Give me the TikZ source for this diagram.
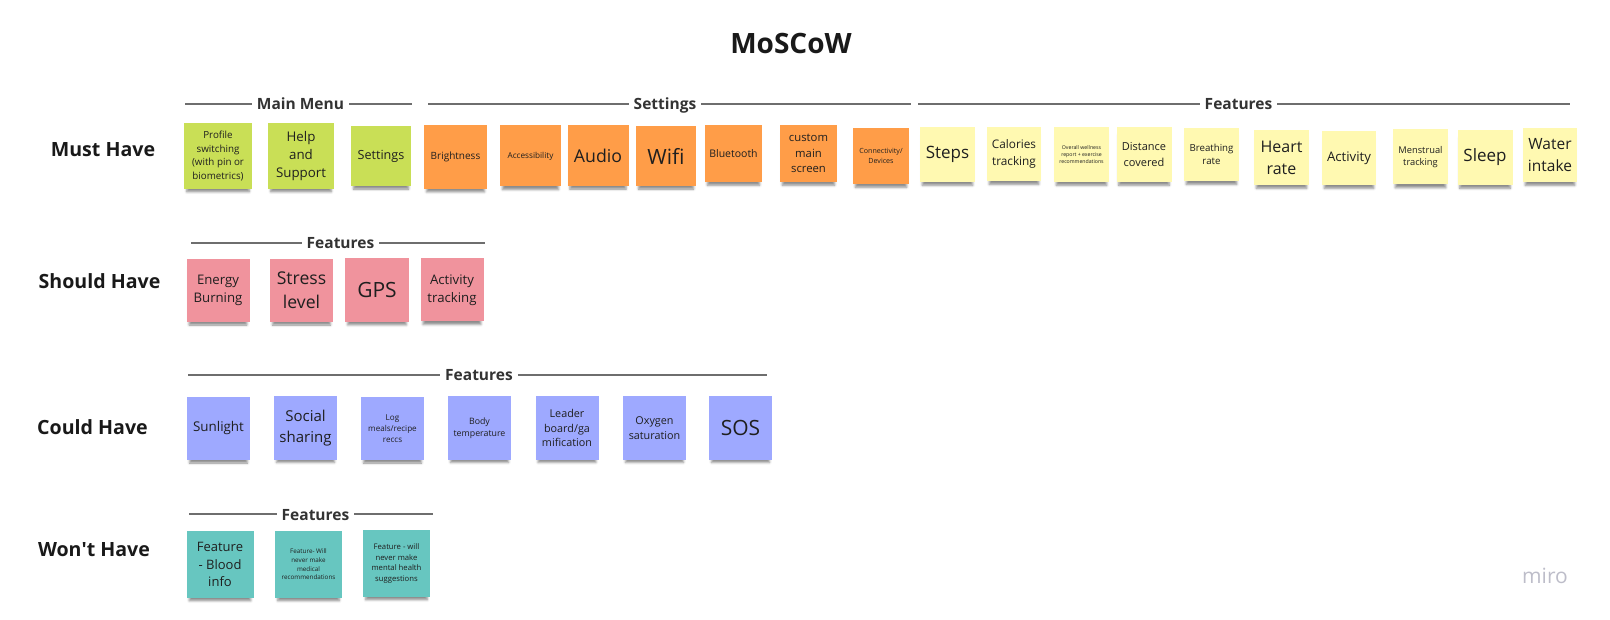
\documentclass[tikz,border=0pt]{standalone}
\usepackage{fontspec}
\setmainfont{Open Sans}
\usetikzlibrary{shadows.blur}
\definecolor{notegreen}{HTML}{C9DF56}
\definecolor{noteorange}{HTML}{FF9D48}
\definecolor{noteyellow}{HTML}{FFF9B1}
\definecolor{notered}{HTML}{F0939D}
\definecolor{noteblue}{HTML}{9EA9FF}
\definecolor{notecyan}{HTML}{67C6C0}
\definecolor{rulegray}{HTML}{6E6E6E}
\definecolor{logogray}{HTML}{BDBDC9}
\newcommand{\stsize}[1]{\fontsize{#1}{\fpeval{1.37*#1}}\selectfont}

\begin{document}
\begin{tikzpicture}[x=1pt, y=-1pt,
    note/.style={inner sep=0pt, align=center, text=black!88, minimum size=63pt,
      blur shadow={shadow xshift=0pt, shadow yshift=-6pt, shadow scale=0.92,
        shadow opacity=45, shadow blur radius=2.5pt}},
    fs/.style={font=\stsize{#1}},
    header/.style={anchor=base, font=\bfseries\fontsize{15.5}{18}\selectfont,
      text=black!80, inner xsep=5pt, inner ysep=0pt},
    rowlabel/.style={anchor=base, font=\bfseries\fontsize{19.6}{23}\selectfont,
      text=black!90, inner sep=0pt},
    headline/.style={draw=rulegray, line width=1.1pt}]
    \useasboundingbox (0,0) rectangle (1610,620);

    \node (title) at (791,53.5) [anchor=base, font=\bfseries\fontsize{28}{32}\selectfont, text=black!90] {MoSCoW};

    \node (must) at (103,157) [rowlabel] {Must Have};
    \node (should) at (99.5,289) [rowlabel] {Should Have};
    \node (could) at (92.5,435) [rowlabel] {Could Have};
    \node (wont) at (94,556) [rowlabel] {Won\textquotesingle t Have};

    % section headers
    \node (hmenu) at (300.5,110) [header] {Main Menu};
    \node (hsett) at (665,110) [header] {Settings};
    \node (hfeat) at (1238.5,110) [header] {Features};
    \node (hshould) at (340.5,249) [header] {Features};
    \node (hcould) at (479,381) [header] {Features};
    \node (hwont) at (315.5,520) [header] {Features};
    \coordinate (menuL) at (185,104);   \coordinate (menuR) at (412,104);
    \coordinate (settL) at (428,104);   \coordinate (settR) at (911,104);
    \coordinate (featL) at (918,104);   \coordinate (featR) at (1570,104);
    \coordinate (shouldL) at (191,243); \coordinate (shouldR) at (485,243);
    \coordinate (couldL) at (188,375);  \coordinate (couldR) at (767,375);
    \coordinate (wontL) at (189,514);   \coordinate (wontR) at (433,514);
    \foreach \h in {menu, sett, feat, should, could, wont} {
      \draw [headline] (\h L) -- (h\h.west |- \h L);
      \draw [headline] (h\h.east |- \h R) -- (\h R);
    }

    % must have
    \node (prof) at (218,156) [note, fill=notegreen, minimum width=68pt, minimum height=66pt, fs=9.8] {Profile\\switching\\(with pin or\\biometrics)};
    \node (help) at (301,156) [note, fill=notegreen, minimum size=66pt, fs=13.3] {Help\\and\\Support};
    \node (sett) at (381,156) [note, fill=notegreen, minimum size=60pt, fs=12.6] {Settings};
    \node (bright) at (455.5,157) [note, fill=noteorange, minimum width=63pt, minimum height=64pt, fs=10] {Brightness};
    \node (access) at (530.5,156) [note, fill=noteorange, minimum size=61pt, fs=8.2] {Accessibility};
    \node (audio) at (598,155.5) [note, fill=noteorange, minimum size=61pt, fs=17.7] {Audio};
    \node (wifi) at (666,156) [note, fill=noteorange, minimum size=60pt, fs=21] {Wifi};
    \node (blue) at (733.5,153.5) [note, fill=noteorange, minimum size=57pt, fs=10.5] {Bluetooth};
    \node (custom) at (808.5,153.5) [note, fill=noteorange, minimum size=57pt, fs=11.3] {custom\\main\\screen};
    \node (conn) at (881,156) [note, fill=noteorange, minimum size=56pt, fs=7.1] {Connectivity/\\Devices};
    \node (steps) at (947.5,154.5) [note, fill=noteyellow, minimum size=55pt, fs=17] {Steps};
    \node (cal) at (1014,154) [note, fill=noteyellow, minimum size=54pt, fs=11.8] {Calories\\tracking};
    \node (overall) at (1081.5,154.5) [note, fill=noteyellow, minimum size=55pt, fs=5.2] {Overall wellness\\report + exercise\\recommendations};
    \node (dist) at (1144,154.5) [note, fill=noteyellow, minimum size=55pt, fs=11] {Distance\\covered};
    \node (breath) at (1211.5,154.5) [note, fill=noteyellow, minimum width=55pt, minimum height=53pt, fs=9.7] {Breathing\\rate};
    \node (heart) at (1281.5,157.5) [note, fill=noteyellow, minimum size=55pt, fs=16] {Heart\\rate};
    \node (activ) at (1349,158) [note, fill=noteyellow, minimum size=54pt, fs=13.2] {Activity};
    \node (menst) at (1420.5,157) [note, fill=noteyellow, minimum size=55pt, fs=9.3] {Menstrual\\tracking};
    \node (sleep) at (1485,157.5) [note, fill=noteyellow, minimum size=55pt, fs=17] {Sleep};
    \node (water) at (1550,155) [note, fill=noteyellow, minimum size=54pt, fs=15.5] {Water\\intake};

    % should have
    \node (energy) at (218,290.5) [note, fill=notered, fs=13.2] {Energy\\Burning};
    \node (stress) at (301.5,290.5) [note, fill=notered, fs=17.6] {Stress\\level};
    \node (gps) at (377,290) [note, fill=notered, minimum size=64pt, fs=21] {GPS};
    \node (acttrack) at (452,290) [note, fill=notered, fs=13.2] {Activity\\tracking};

    % could have
    \node (sun) at (218.5,428.5) [note, fill=noteblue, fs=13.4] {Sunlight};
    \node (social) at (305.5,428) [note, fill=noteblue, fs=15] {Social\\sharing};
    \node (logm) at (392.5,428.5) [note, fill=noteblue, fs=8.1] {Log\\meals/recipe\\reccs};
    \node (body) at (479.5,428) [note, fill=noteblue, fs=8.8] {Body\\temperature};
    \node (leader) at (567,428) [note, fill=noteblue, fs=10.8] {Leader\\board/ga\\mification};
    \node (oxy) at (654.5,428) [note, fill=noteblue, fs=10.8] {Oxygen\\saturation};
    \node (sos) at (740.5,428) [note, fill=noteblue, fs=21] {SOS};

    % won't have
    \node (blood) at (220,564.5) [note, fill=notecyan, minimum size=67pt, fs=13] {Feature\\- Blood\\info};
    \node (medical) at (308.5,564.5) [note, fill=notecyan, minimum size=67pt, fs=6.3] {Feature- Will\\never make\\medical\\recommendations};
    \node (mental) at (396.5,563.5) [note, fill=notecyan, minimum size=67pt, fs=7.7] {Feature - will\\never make\\mental health\\suggestions};

    \node (logo) at (1545,583) [anchor=base, font=\fontsize{21}{24}\selectfont, text=logogray] {miro};
\end{tikzpicture}
\end{document}
